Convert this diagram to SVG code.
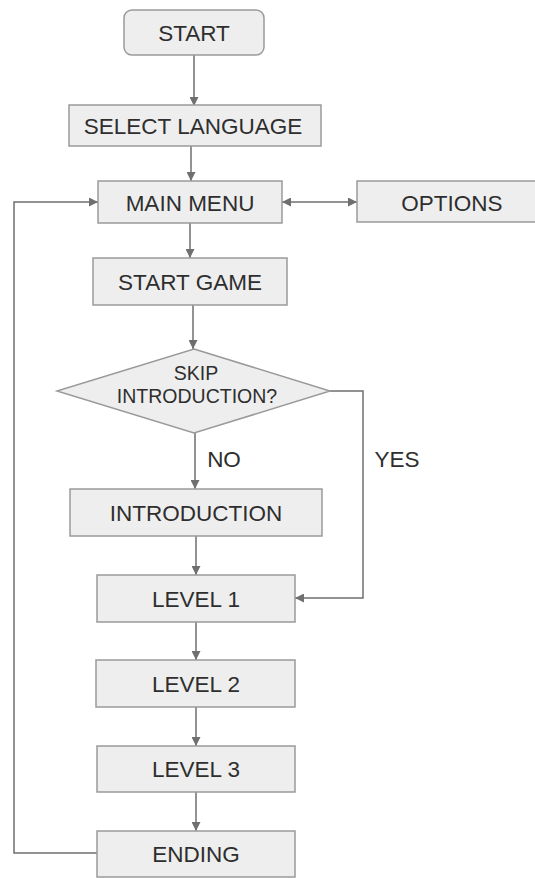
<svg xmlns="http://www.w3.org/2000/svg" width="535" height="878" viewBox="0 0 535 878">
  <defs>
    <marker id="arr" viewBox="0 0 10 10" refX="10" refY="5" markerWidth="9" markerHeight="9" markerUnits="userSpaceOnUse" orient="auto-start-reverse">
      <path d="M0,0 L10,5 L0,10 z" fill="#6f6f6f"/>
    </marker>
  </defs>
  <style>
    .box { fill: #eeeeee; stroke: #9a9a9a; stroke-width: 1.5; }
    .lbl { font-family: "Liberation Sans", Arial, sans-serif; font-size: 22.5px; fill: #2e2e2e; text-anchor: middle; }
    .small { font-size: 19.5px; }
    .edge { fill: none; stroke: #6f6f6f; stroke-width: 1.5; }
  </style>
  <rect width="535" height="878" fill="#ffffff"/>

  <g id="connectors">
    <path class="edge" d="M194,55 L194,106" marker-end="url(#arr)"/>
    <path class="edge" d="M191,146 L191,181" marker-end="url(#arr)"/>
    <path class="edge" d="M282,202 L357,202" marker-start="url(#arr)" marker-end="url(#arr)"/>
    <path class="edge" d="M190,223 L190,258" marker-end="url(#arr)"/>
    <path class="edge" d="M193,305 L193,349" marker-end="url(#arr)"/>
    <path class="edge" d="M195,433 L195,489" marker-end="url(#arr)"/>
    <path class="edge" d="M330,391 L363,391 L363,598 L295,598" marker-end="url(#arr)"/>
    <path class="edge" d="M196,536 L196,575" marker-end="url(#arr)"/>
    <path class="edge" d="M196,622 L196,660" marker-end="url(#arr)"/>
    <path class="edge" d="M196,707 L196,746" marker-end="url(#arr)"/>
    <path class="edge" d="M196,792 L196,831" marker-end="url(#arr)"/>
    <path class="edge" d="M97,853 L14,853 L14,202 L98,202" marker-end="url(#arr)"/>
    <text class="lbl" x="224" y="467">NO</text>
    <text class="lbl" x="397" y="467">YES</text>
  </g>

  <g id="start">
    <rect class="box" x="124" y="10" width="140" height="45" rx="8" ry="8"/>
    <text class="lbl" x="194" y="41">START</text>
  </g>
  <g id="select-language">
    <rect class="box" x="69" y="105" width="252" height="41"/>
    <text class="lbl" x="193" y="133.5">SELECT LANGUAGE</text>
  </g>
  <g id="main-menu">
    <rect class="box" x="98" y="181" width="184" height="42"/>
    <text class="lbl" x="190" y="210.5">MAIN MENU</text>
  </g>
  <g id="options">
    <rect class="box" x="357" y="181" width="191" height="41"/>
    <text class="lbl" x="452" y="210.5">OPTIONS</text>
  </g>
  <g id="start-game">
    <rect class="box" x="93" y="258" width="194" height="47"/>
    <text class="lbl" x="190" y="290">START GAME</text>
  </g>
  <g id="skip-introduction">
    <polygon class="box" points="194,349 330,391 194,433 57,391"/>
    <text class="lbl small" x="196" y="380">SKIP</text>
    <text class="lbl small" x="197" y="403">INTRODUCTION?</text>
  </g>
  <g id="introduction">
    <rect class="box" x="70" y="489" width="252" height="47"/>
    <text class="lbl" x="196" y="521">INTRODUCTION</text>
  </g>
  <g id="level-1">
    <rect class="box" x="97" y="575" width="198" height="47"/>
    <text class="lbl" x="196" y="607">LEVEL 1</text>
  </g>
  <g id="level-2">
    <rect class="box" x="96" y="660" width="199" height="47"/>
    <text class="lbl" x="196" y="691.5">LEVEL 2</text>
  </g>
  <g id="level-3">
    <rect class="box" x="97" y="746" width="198" height="46"/>
    <text class="lbl" x="196" y="777">LEVEL 3</text>
  </g>
  <g id="ending">
    <rect class="box" x="97" y="831" width="198" height="46"/>
    <text class="lbl" x="196" y="862">ENDING</text>
  </g>
</svg>
